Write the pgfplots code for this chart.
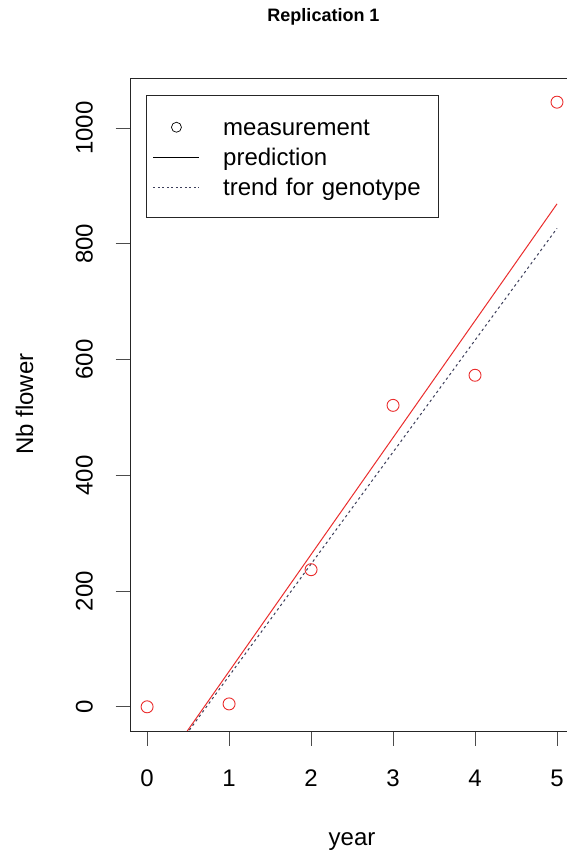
\documentclass[border=0pt]{standalone}
\usepackage{pgfplots}
\pgfplotsset{compat=1.18}
\usepackage{fontspec}
\setmainfont{Liberation Sans}
\definecolor{predred}{RGB}{235,45,45}
\definecolor{trendcol}{RGB}{60,62,90}
\pgfplotsset{
  legline/.style={legend image code/.code={\draw[##1] (0pt,-1pt) -- (46pt,-1pt);}},
  legcirc/.style={legend image code/.code={\path[draw=none] (0pt,-1pt) -- (46pt,-1pt); \draw[black, line width=0.7pt, solid] (23pt,-1pt) circle (5pt);}},
}
\begin{document}
\begin{tikzpicture}
\useasboundingbox (0,0) rectangle (567pt,854pt);
\clip (0,0) rectangle (567pt,854pt);
\fill[white] (0,0) rectangle (567pt,854pt);
\begin{axis}[
  at={(130.7pt,123pt)}, anchor=south west,
  scale only axis, width=442.7pt, height=653pt,
  xmin=-0.2, xmax=5.2, ymin=-41.8, ymax=1086.8,
  axis line style={black!85, line width=0.9pt},
  xtick={0,1,2,3,4,5}, ytick={0,200,400,600,800,1000},
  xtick pos=left, ytick pos=left,
  tick align=outside, major tick length=15pt,
  tick style={black!70, line width=0.9pt},
  /pgf/number format/1000 sep={},
  /pgf/number format/assume math mode=true,
  tick label style={font=\fontsize{24}{28}\selectfont},
  xticklabel style={anchor=north, inner sep=0pt, yshift=-24pt},
  yticklabel style={rotate=90, anchor=south, inner sep=0pt, yshift=22.7pt},
  clip=true,
  legend cell align=left,
  legend style={at={(0.03456,0.97397)}, anchor=north west,
    draw=black!85, line width=0.8pt, inner xsep=6.7pt, inner ysep=15.85pt,
    column sep=23.4pt, row sep=0pt,
    font=\fontsize{24}{28}\selectfont,
    nodes={inner sep=0pt, text height=24.15pt, text depth=5.85pt, text width=208.3pt, align=left}},
]
\addplot[only marks, mark=o, mark size=6pt, predred, line width=0.9pt, forget plot]
  coordinates {(0,0) (1,5) (2,237) (3,521) (4,573) (5,1045)};
\addplot[predred, line width=1pt, forget plot]
  coordinates {(0,-140.8) (5,869.2)};
\addplot[trendcol, line width=1pt, dash pattern=on 2.5pt off 3pt, forget plot]
  coordinates {(0,-140) (5,827)};
\addlegendimage{black, line width=0.7pt, legcirc}
\addlegendentry{measurement}
\addlegendimage{black, line width=0.7pt, legline}
\addlegendentry{prediction}
\addlegendimage{trendcol, line width=0.7pt, dash pattern=on 2pt off 2.5pt, legline}
\addlegendentry{trend for genotype}
\end{axis}
\node[anchor=base, font=\fontsize{18}{22}\selectfont\bfseries] at (323.5pt,832pt) {Replication 1};
\node[anchor=base, font=\fontsize{24}{28}\selectfont] at (352pt,9pt) {year};
\node[anchor=base, rotate=90, font=\fontsize{24}{28}\selectfont] at (33pt,450pt) {Nb flower};
\end{tikzpicture}
\end{document}
